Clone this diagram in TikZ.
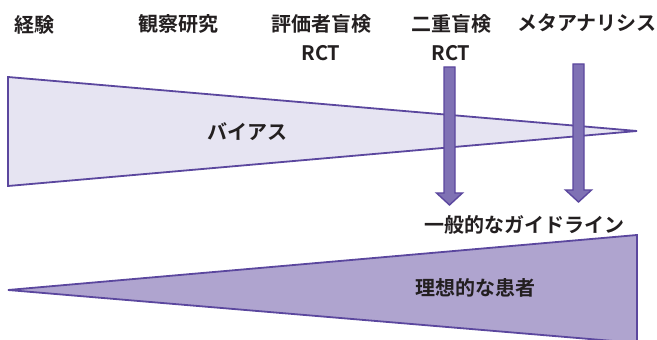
\documentclass[tikz,border=0pt]{standalone}
\usepackage{fontspec}
\usetikzlibrary{calc}
\setmainfont{Noto Sans CJK JP}
\newfontfamily\jpbold{Noto Sans CJK JP Bold}
\definecolor{edgec}{HTML}{5B479E}
\definecolor{lightfill}{HTML}{E6E4F2}
\definecolor{darkfill}{HTML}{AFA4CF}
\definecolor{arrowfill}{HTML}{7F71B4}
\definecolor{txt}{HTML}{231F20}
\tikzset{
  lbl/.style={font=\jpbold\fontsize{20}{22}\selectfont, text=txt, inner sep=0pt, anchor=center},
  wedge/.style={draw=edgec, line width=1.8pt, line join=miter},
  fatarrow/.style={draw=edgec, fill=arrowfill, line width=1.4pt, line join=miter}
}
\begin{document}
\begin{tikzpicture}[x=1pt,y=1pt]
\useasboundingbox (0,0) rectangle (657,340);
% bias wedge
\draw[wedge, fill=lightfill] (8,263) -- (637,209) -- (8,154) -- cycle;
% ideal patient wedge
\draw[wedge, fill=darkfill] (8,50) -- (637,105) -- (637,-3) -- cycle;
% arrows
\coordinate (a1top) at (449.5,273);
\coordinate (a1tip) at (449.5,135);
\coordinate (a2top) at (578.5,276);
\coordinate (a2tip) at (578.5,138);
\draw[fatarrow] ($(a1top)+(-5.5,0)$) -- ($(a1top)+(5.5,0)$) -- ($(a1tip)+(5.5,12)$) -- ($(a1tip)+(13,12)$) -- (a1tip) -- ($(a1tip)+(-13,12)$) -- ($(a1tip)+(-5.5,12)$) -- cycle;
\draw[fatarrow] ($(a2top)+(-5.5,0)$) -- ($(a2top)+(5.5,0)$) -- ($(a2tip)+(5.5,12)$) -- ($(a2tip)+(13,12)$) -- (a2tip) -- ($(a2tip)+(-13,12)$) -- ($(a2tip)+(-5.5,12)$) -- cycle;
% labels
\node[lbl] (exp) at (34.5,315) {経験};
\node[lbl] (obs) at (178,316) {観察研究};
\node[lbl] (rater) at (321,316) {評価者盲検};
\node[lbl] (rct1) at (321,287) {RCT};
\node[lbl] (dbl) at (451,316) {二重盲検};
\node[lbl] (rct2) at (451,287) {RCT};
\node[lbl] (meta) at (587,317) {メタアナリシス};
\node[lbl] (bias) at (247,208) {バイアス};
\node[lbl] (guide) at (524,115) {一般的なガイドライン};
\node[lbl] (ideal) at (475,52) {理想的な患者};
\end{tikzpicture}
\end{document}
